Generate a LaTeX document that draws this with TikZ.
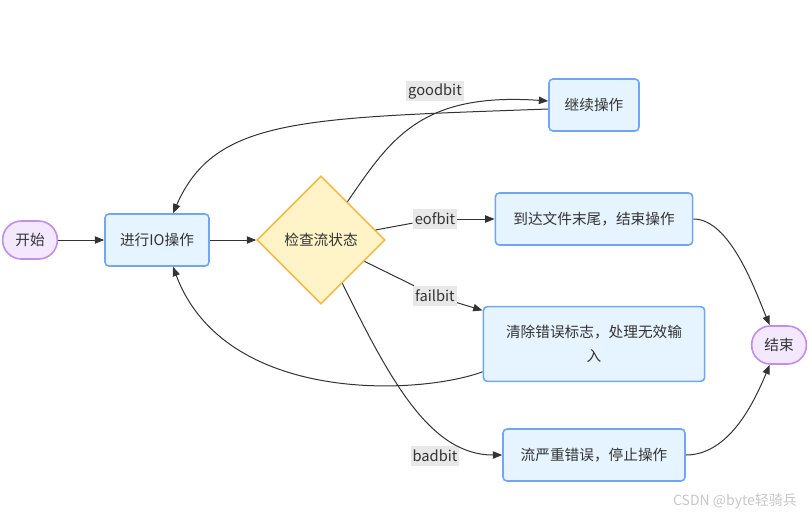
\documentclass[tikz,border=0pt]{standalone}
\usepackage{fontspec}
\setmainfont{Noto Sans CJK SC}
\usetikzlibrary{shapes.geometric,arrows.meta}
\definecolor{procfill}{RGB}{230,244,255}
\definecolor{procline}{RGB}{112,166,245}
\definecolor{termfill}{RGB}{243,232,255}
\definecolor{termline}{RGB}{192,142,236}
\definecolor{decfill}{RGB}{255,243,200}
\definecolor{decline}{RGB}{246,186,76}
\definecolor{labfill}{RGB}{232,232,232}
\definecolor{txt}{RGB}{51,51,51}
\begin{document}
\begin{tikzpicture}[x=0.75pt,y=-0.75pt,
        proc/.style={draw=procline,fill=procfill,rectangle,rounded corners=3pt,line width=1.2pt,minimum height=39pt,inner sep=2pt,text=txt,font=\fontsize{11}{13}\selectfont},
        term/.style={draw=termline,fill=termfill,rectangle,rounded corners=14pt,line width=1.2pt,minimum height=28.5pt,minimum width=41pt,inner sep=2pt,text=txt,font=\fontsize{11}{13}\selectfont},
        dec/.style={draw=decline,fill=decfill,diamond,aspect=1,line width=1.2pt,inner sep=0pt,minimum size=96pt,text=txt,font=\fontsize{11}{13}\selectfont},
        lab/.style={fill=labfill,inner sep=1.5pt,minimum height=15pt,text=txt,font=\fontsize{11}{13}\selectfont},
        flow/.style={draw=txt,line width=0.75pt,-{Triangle[length=7pt,width=5.5pt]}},
        line/.style={draw=txt,line width=0.75pt}
      ]
      \useasboundingbox (0,0) rectangle (812,518);
      % nodes
      \node[term] (start) at (30,240) {开始};
      \node[proc,minimum width=78pt] (io) at (157,240) {进行IO操作};
      \node[dec] (chk) at (321,240) {检查流状态};
      \node[proc,minimum width=67.5pt] (goon) at (594,105) {继续操作};
      \node[proc,minimum width=148pt] (eof) at (594,219) {到达文件末尾，结束操作};
      \node[proc,minimum width=166pt,minimum height=56pt,align=center,font=\fontsize{11}{18}\selectfont] (clr) at (594,344) {清除错误标志，处理无效输\\入};
      \node[proc,minimum width=136.5pt] (bad) at (594,455) {流严重错误，停止操作};
      \node[term] (fin) at (779,345) {结束};
      % edge labels
      \node[lab] (lgood) at (435,91) {goodbit};
      \node[lab] (leof) at (435,219) {eofbit};
      \node[lab] (lfail) at (435,296) {failbit};
      \node[lab] (lbad) at (435,456) {badbit};
      % edges
      \draw[flow] (start) -- (io);
      \draw[flow] (io) -- (chk);
      \draw[flow] (chk) .. controls (390,140) and (420,92) .. (goon.175);
      \draw[flow] (goon.185) .. controls (300,118) and (215,118) .. ([xshift=12pt]io.north);
      \draw[line] (chk) -- (leof);
      \draw[flow] (leof) -- (eof);
      \draw[line] (chk) -- (lfail);
      \draw[flow] (lfail) -- (clr);
      \draw[flow] (chk) .. controls (390,380) and (430,455) .. (bad.west);
      \draw[flow] (clr.194) .. controls (420,395) and (225,405) .. ([xshift=12pt]io.south);
      \draw[flow] (eof.east) .. controls (730,219) and (755,290) .. ([xshift=-7pt]fin.north);
      \draw[flow] (bad.east) .. controls (730,455) and (755,400) .. ([xshift=-7pt]fin.south);
      % watermark
      \node[text=black!22,font=\fontsize{10.5}{12}\selectfont] (mark) at (735,501) {CSDN @byte轻骑兵};
    \end{tikzpicture}
\end{document}
